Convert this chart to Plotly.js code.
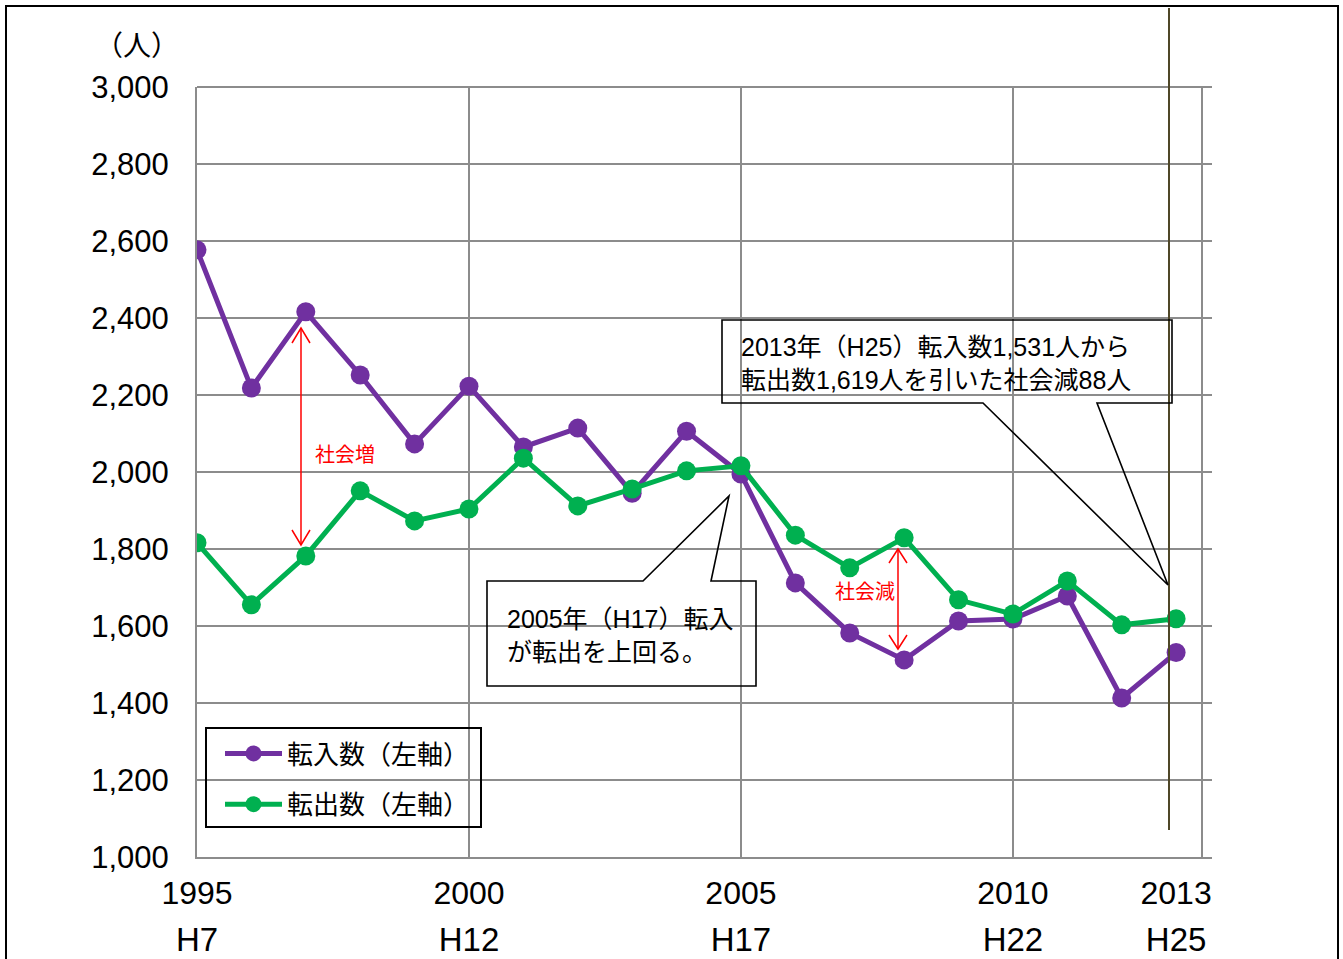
<!DOCTYPE html>
<html>
<head>
<meta charset="utf-8">
<script src="https://cdn.plot.ly/plotly-3.0.1.min.js"></script>
<style>
html,body{margin:0;padding:0;background:#fff;overflow:hidden;}
#chart{position:absolute;left:0;top:0;width:1343px;height:959px;}
#frame{position:absolute;left:5px;top:5px;width:1330px;height:1000px;border:2.5px solid #000;pointer-events:none;z-index:10;}
</style>
</head>
<body>
<div id="chart"></div>
<div id="frame"></div>
<script>
// ---- data ----
const years = [1995,1996,1997,1998,1999,2000,2001,2002,2003,2004,2005,2006,2007,2008,2009,2010,2011,2012,2013];
const tennyu = [2577,2218,2416,2252,2073,2223,2065,2114,1945,2106,1995,1712,1582,1512,1613,1618,1678,1413,1531];
const tenshutsu = [1816,1655,1782,1951,1873,1904,2036,1912,1956,2003,2016,1836,1751,1829,1668,1631,1717,1603,1619];
const yearTicks = [1995,2000,2005,2010,2013];
const yearLabels = ['1995','2000','2005','2010','2013'];
const eraLabels = ['H7','H12','H17','H22','H25'];
const seriesNames = ['転入数（左軸）','転出数（左軸）'];

// ---- layout helpers (pixel -> paper) ----
const W = 1343, H = 959;
const L = 197, R = 1212, T = 87, B = 857;
const px = x => (x - L) / (R - L);
const py = y => (B - y) / (B - T);
const FONT = "'Liberation Sans', Arial, 'Noto Sans CJK JP', sans-serif";
const grid = '#8c8c8c';
const xr = [1995, 2013.66];

function path(pts, close){
  return 'M' + pts.map(p => px(p[0]).toFixed(5) + ',' + py(p[1]).toFixed(5)).join('L') + (close ? 'Z' : '');
}

const traces = [
  {x: years, y: tennyu, name: seriesNames[0], legendgroup: 'a', mode: 'lines+markers',
   line: {color: '#7030A0', width: 5}, marker: {color: '#7030A0', size: 19}},
  {x: years, y: tenshutsu, name: seriesNames[1], legendgroup: 'b', mode: 'lines+markers',
   line: {color: '#00B050', width: 5}, marker: {color: '#00B050', size: 19}},
  {x: [], y: [], xaxis: 'x2', showlegend: false, hoverinfo: 'skip'},
  {x: [], y: [], xaxis: 'x3', showlegend: false, hoverinfo: 'skip'}
];

const red = '#ff0000';
const shapes = [
  // top gridline (3,000)
  {type: 'line', xref: 'paper', yref: 'paper', x0: 0, x1: 1, y0: 1, y1: 1, layer: 'below',
   line: {color: grid, width: 2}},
  // olive vertical line
  {type: 'line', xref: 'paper', yref: 'paper', x0: px(1169), x1: px(1169), y0: py(8), y1: py(830),
   line: {color: '#4f4728', width: 2}},
  // legend frame
  {type: 'rect', xref: 'paper', yref: 'paper', x0: px(206), x1: px(481), y0: py(728), y1: py(827),
   line: {color: '#000', width: 2}},
  // callout 1
  {type: 'path', xref: 'paper', yref: 'paper',
   path: path([[722,320],[1172,320],[1172,403],[1097,403],[1168,585],[983,403],[722,403]], true),
   line: {color: '#000', width: 1.6}},
  // callout 2
  {type: 'path', xref: 'paper', yref: 'paper',
   path: path([[487,581],[643,581],[729,496],[711,581],[756,581],[756,686],[487,686]], true),
   line: {color: '#000', width: 1.6}},
  // red arrow 1 (social increase)
  {type: 'path', xref: 'paper', yref: 'paper', path: path([[301,328],[301,545]]), line: {color: red, width: 1.5}},
  {type: 'path', xref: 'paper', yref: 'paper', path: path([[292,343],[301,328],[310,343]]), line: {color: red, width: 1.5}},
  {type: 'path', xref: 'paper', yref: 'paper', path: path([[292,530],[301,545],[310,530]]), line: {color: red, width: 1.5}},
  // red arrow 2 (social decrease)
  {type: 'path', xref: 'paper', yref: 'paper', path: path([[898,549],[898,649]]), line: {color: red, width: 1.5}},
  {type: 'path', xref: 'paper', yref: 'paper', path: path([[889,563],[898,549],[907,563]]), line: {color: red, width: 1.5}},
  {type: 'path', xref: 'paper', yref: 'paper', path: path([[889,635],[898,649],[907,635]]), line: {color: red, width: 1.5}}
];

const annotations = [
  {text: '（人）', xref: 'paper', yref: 'paper', x: px(137), y: py(47), showarrow: false,
   xanchor: 'center', yanchor: 'middle', font: {size: 28, color: '#000', family: FONT}},
  {text: '社会増', xref: 'paper', yref: 'paper', x: px(345), y: py(455), showarrow: false,
   xanchor: 'center', yanchor: 'middle', font: {size: 20, color: red, family: FONT}},
  {text: '社会減', xref: 'paper', yref: 'paper', x: px(865), y: py(592), showarrow: false,
   xanchor: 'center', yanchor: 'middle', font: {size: 20, color: red, family: FONT}},
  {text: '2013年（H25）転入数1,531人から<br>転出数1,619人を引いた社会減88人', xref: 'paper', yref: 'paper',
   x: px(739), y: py(363), showarrow: false, xanchor: 'left', yanchor: 'middle', align: 'left',
   font: {size: 25, color: '#000', family: FONT}},
  {text: '2005年（H17）転入<br>が転出を上回る。', xref: 'paper', yref: 'paper',
   x: px(505), y: py(635), showarrow: false, xanchor: 'left', yanchor: 'middle', align: 'left',
   font: {size: 25, color: '#000', family: FONT}}
];

const tickFont = {size: 32, family: FONT, color: '#000'};
const layout = {
  width: W, height: H,
  margin: {l: L, r: W - R, t: T, b: H - B, pad: 0},
  paper_bgcolor: '#fff', plot_bgcolor: '#fff',
  font: {family: FONT, color: '#000'},
  showlegend: true,
  legend: {x: px(220), y: py(730), xanchor: 'left', yanchor: 'top',
           bgcolor: 'rgba(0,0,0,0)', borderwidth: 0,
           font: {size: 26, family: FONT, color: '#000'}, itemwidth: 57, tracegroupgap: 14},
  xaxis: {range: xr, tickvals: [1995,2000,2005,2010,2013.47], showticklabels: false,
          showgrid: true, gridcolor: grid, gridwidth: 2, showline: true, linecolor: grid, linewidth: 2,
          zeroline: false, ticks: ''},
  xaxis2: {range: xr, overlaying: 'x', anchor: 'y', side: 'bottom', tickvals: yearTicks, ticktext: yearLabels,
           showgrid: false, showline: false, zeroline: false, ticks: '', ticklabelstandoff: 14,
           tickfont: tickFont},
  xaxis3: {range: xr, overlaying: 'x', anchor: 'y', side: 'bottom', tickvals: yearTicks, ticktext: eraLabels,
           showgrid: false, showline: false, zeroline: false, ticks: '', ticklabelstandoff: 60,
           tickfont: {size: 33, family: FONT, color: '#000'}},
  yaxis: {range: [1000, 3000], tickvals: [1000,1200,1400,1600,1800,2000,2200,2400,2600,2800,3000], tickformat: ',d',
          showgrid: true, gridcolor: grid, gridwidth: 2, showline: true, linecolor: grid, linewidth: 2,
          zeroline: false, ticks: '', ticklabelstandoff: 20,
          tickfont: {size: 31, family: FONT, color: '#000'}},
  shapes: shapes,
  annotations: annotations
};

Plotly.newPlot('chart', traces, layout, {displayModeBar: false, staticPlot: true});
</script>
</body>
</html>
